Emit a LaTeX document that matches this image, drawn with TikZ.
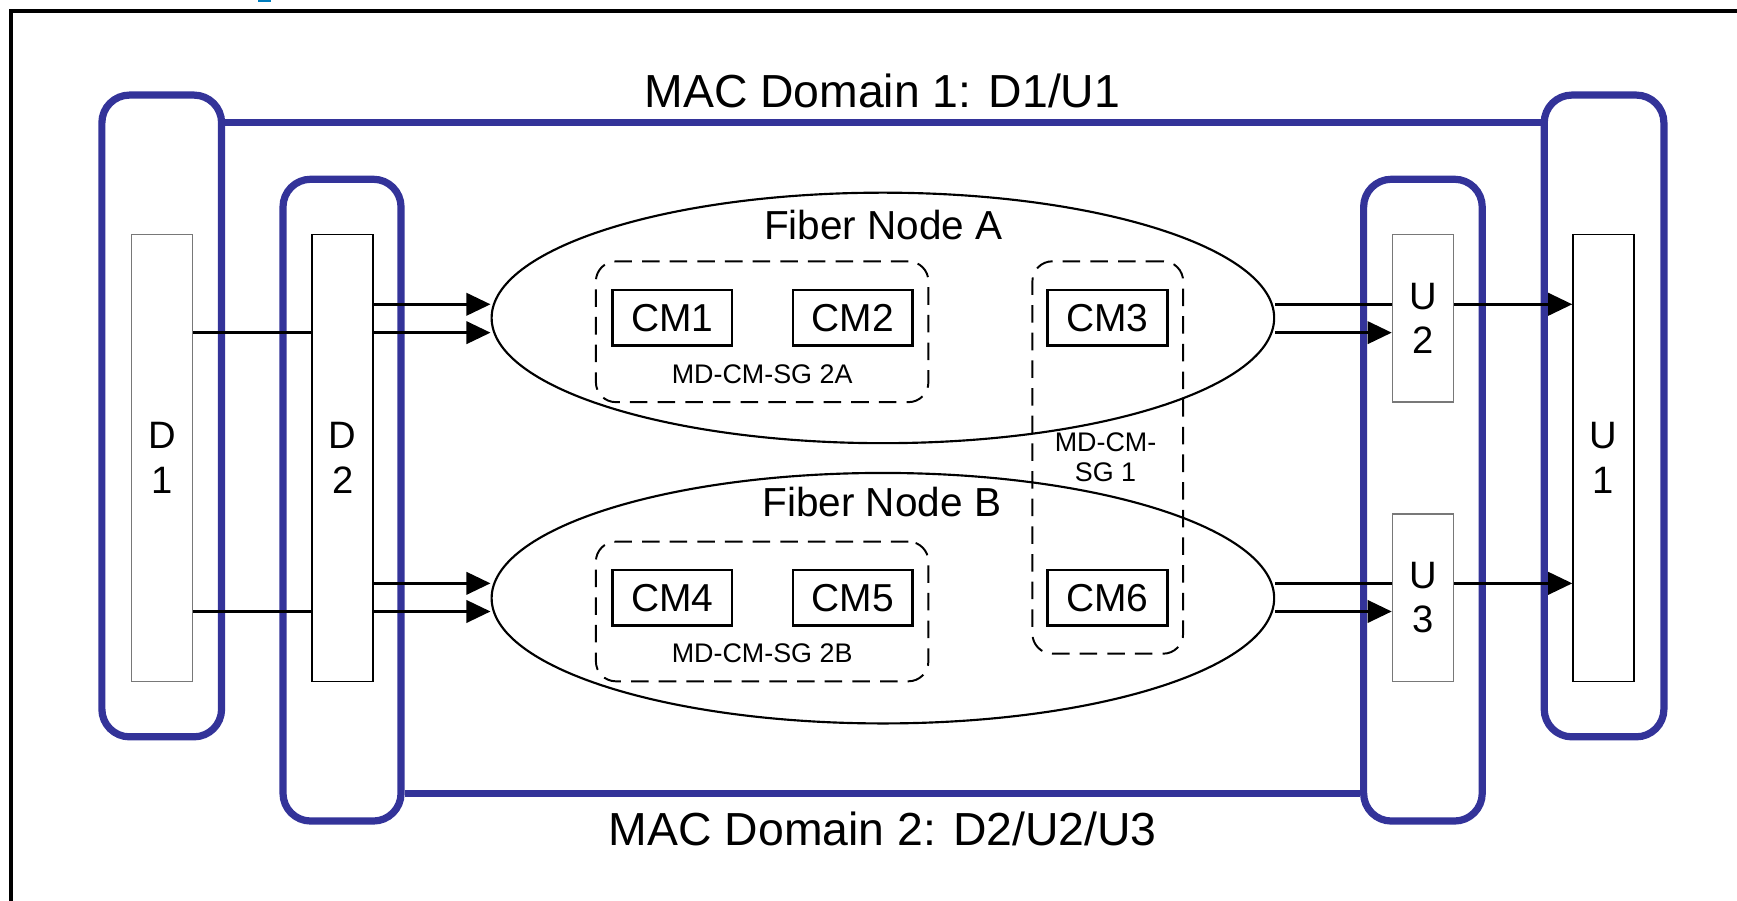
\documentclass[tikz,border=0pt]{standalone}
\usepackage{fontspec}
\setmainfont{Liberation Sans}
\usetikzlibrary{shapes.geometric,arrows.meta}
\definecolor{mdblue}{RGB}{51,51,153}
\definecolor{topblue}{RGB}{0,125,190}
\definecolor{ingray}{RGB}{120,120,120}
\begin{document}
\begin{tikzpicture}[x=0.01cm,y=-0.01cm,
  domainbox/.style={draw=mdblue, line width=1.85pt, rounded corners=0.25cm, minimum width=#1, minimum height=5.79cm, inner sep=0pt},
  domline/.style={draw=mdblue, line width=1.85pt},
  port/.style={draw=#1, fill=white, line width=0.35pt, minimum width=0.55cm, inner sep=0pt, align=center, font=\fontsize{9.8}{11.4}\selectfont},
  fnode/.style={draw, ellipse, line width=0.55pt, minimum width=7.06cm, minimum height=2.26cm, inner sep=0pt},
  cmbox/.style={draw, line width=0.6pt, minimum width=1.08cm, minimum height=0.5cm, inner sep=0pt, font=\fontsize{10}{12}\selectfont},
  sgbox/.style={draw, dash pattern=on 4.5pt off 2.6pt, line width=0.5pt, rounded corners=0.18cm, inner sep=0pt},
  arr/.style={-{Triangle[length=6.2pt,width=5.7pt]}, line width=0.85pt},
  title/.style={font=\fontsize{11.9}{14}\selectfont, anchor=base, inner sep=0pt},
  fnlabel/.style={font=\fontsize{10.4}{12}\selectfont, anchor=base, inner sep=0pt},
  sglabel/.style={font=\fontsize{6.9}{7.7}\selectfont, align=center, inner sep=0pt}
]
\useasboundingbox (0,0) rectangle (1568,813);
% outer frame (cropped on right and bottom)
\draw[line width=1pt] (1580,10) -- (10,10) -- (10,825);
\fill[topblue] (233,0) rectangle (245,1.8);

% MAC domain boxes
\node[domainbox=1.08cm] (B1) at (146,375.5) {};
\node[domainbox=1.065cm] (B2) at (308.75,451.5) {};
\node[domainbox=1.07cm] (B3) at (1284.5,451.5) {};
\node[domainbox=1.08cm] (B4) at (1448,375.5) {};
\coordinate (ytop) at (0,110.6);
\coordinate (ybot) at (0,716);
\draw[domline] (B1.east |- ytop) -- (B4.west |- ytop);
\draw[domline] (B2.east |- ybot) -- (B3.west |- ybot);

% fiber nodes
\node[fnode] (FNA) at (797,287) {};
\node[fnode] (FNB) at (797,540) {};

% MD-CM-SG groups
\node[sgbox, minimum width=3.0cm, minimum height=1.27cm] (G2A) at (688,299.5) {};
\node[sgbox, minimum width=3.0cm, minimum height=1.26cm] (G2B) at (688,552) {};
\node[sgbox, minimum width=1.36cm, minimum height=3.54cm] (G1) at (1000,413) {};

% cable modems
\node[cmbox] (CM1) at (607,287) {CM1};
\node[cmbox] (CM2) at (769.75,287) {CM2};
\node[cmbox] (CM3) at (999.75,287) {CM3};
\node[cmbox] (CM4) at (607,539.5) {CM4};
\node[cmbox] (CM5) at (769.75,539.5) {CM5};
\node[cmbox] (CM6) at (999.75,539.5) {CM6};

% arrow levels
\coordinate (yA1) at (0,274.7);
\coordinate (yA2) at (0,300.3);
\coordinate (yB1) at (0,526.6);
\coordinate (yB2) at (0,552);

% D1 port and its arrows (pass behind D2)
\node[port=ingray, minimum height=4.03cm] (D1) at (146.5,413.5) {D\\1};
\draw[arr] (D1.east |- yA2) -- (FNA.west |- yA2);
\draw[arr] (D1.east |- yB2) -- (FNB.west |- yB2);
% U1 arrows (pass behind U2/U3)
\node[port=black, minimum height=4.03cm] (U1) at (1447.5,413.5) {U\\1};
\draw[arr] (FNA.east |- yA1) -- (U1.west |- yA1);
\draw[arr] (FNB.east |- yB1) -- (U1.west |- yB1);

\node[port=black, minimum height=4.03cm] (D2) at (309.3,413.5) {D\\2};
\node[port=ingray, minimum height=1.51cm] (U2) at (1284.5,287.5) {U\\2};
\node[port=ingray, minimum height=1.51cm] (U3) at (1284.5,539.5) {U\\3};

\draw[arr] (D2.east |- yA1) -- (FNA.west |- yA1);
\draw[arr] (D2.east |- yB1) -- (FNB.west |- yB1);
\draw[arr] (FNA.east |- yA2) -- (U2.west |- yA2);
\draw[arr] (FNB.east |- yB2) -- (U3.west |- yB2);

% labels
\node[title] (T1) at (796.5,97) {MAC Domain 1: D1/U1};
\node[title] (T2) at (797,763) {MAC Domain 2: D2/U2/U3};
\node[fnlabel] (LA) at (797.5,216) {Fiber Node A};
\node[fnlabel] (LB) at (796,466) {Fiber Node B};
\node[sglabel] (L2A) at (688,338) {MD-CM-SG 2A};
\node[sglabel] (L2B) at (688,590) {MD-CM-SG 2B};
\node[sglabel] (L1) at (998,412.5) {MD-CM-\\SG 1};
\end{tikzpicture}
\end{document}
